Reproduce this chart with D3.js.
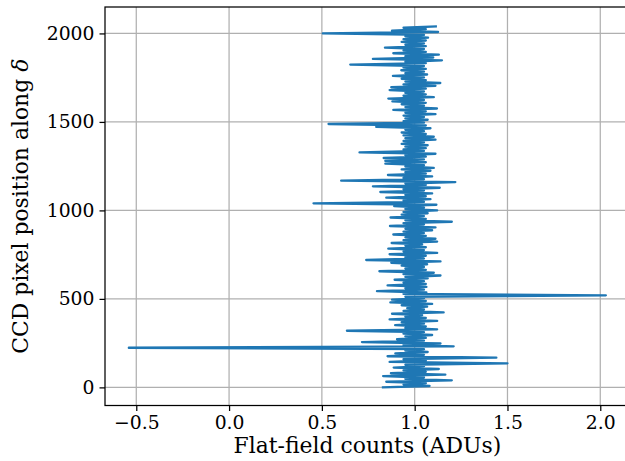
<!DOCTYPE html>
<html>
<head>
<meta charset="utf-8">
<script src="https://cdn.jsdelivr.net/npm/d3@7"></script>
<style>
  body { margin: 0; background: #fff; }
  text { font-family: "DejaVu Serif", serif; fill: #000; }
</style>
</head>
<body>
<div id="chart"></div>
<script>
// flat-field counts per CCD row, read every 8 pixels (pixel = index * step)
var step = 8;
var nPixels = 2048;
var counts = [
  0.823, 1.08, 0.94, 1.06, 0.847, 1.20, 0.95, 1.05, 0.83, 1.165, 0.872, 1.06, 0.94, 1.13, 0.887, 1.05,
  0.95, 1.50, 0.865, 1.06, 0.94, 1.44, 0.854, 1.05, 0.896, 1.07, 0.95, 1.05, -0.54, 1.21, 0.94, 1.139,
  0.716, 1.05, 0.905, 1.06, 0.95, 1.094, 0.94, 1.05, 0.635, 1.121, 0.95, 1.06, 0.895, 1.05, 0.93, 1.121,
  0.865, 1.06, 0.95, 1.04, 0.878, 1.156, 0.94, 1.05, 0.96, 1.067, 0.93, 1.094, 0.869, 1.06, 0.878, 1.05,
  0.95, 2.03, 0.94, 1.063, 0.797, 1.05, 0.95, 1.063, 0.854, 1.06, 0.94, 1.05, 0.892, 1.07, 0.95, 1.139,
  0.94, 1.103, 0.81, 1.06, 0.95, 1.05, 0.93, 1.067, 0.874, 1.139, 0.739, 1.05, 0.95, 1.06, 0.865, 1.121,
  0.94, 1.05, 0.858, 1.06, 0.95, 1.04, 0.876, 1.121, 0.94, 1.112, 0.95, 1.06, 0.885, 1.05, 0.94, 1.094,
  0.95, 1.112, 0.867, 1.05, 0.94, 1.20, 0.95, 1.06, 0.87, 1.05, 0.93, 1.07, 0.94, 1.121, 0.95, 1.05,
  0.89, 1.117, 0.455, 1.05, 0.94, 1.085, 0.847, 1.06, 0.95, 1.094, 0.815, 1.05, 0.94, 1.135, 0.775, 1.06,
  0.95, 1.219, 0.604, 1.05, 0.94, 1.094, 0.856, 1.06, 0.95, 1.085, 0.93, 1.103, 0.95, 1.05, 0.842, 1.06,
  0.842, 1.05, 0.833, 1.06, 0.95, 1.112, 0.703, 1.05, 0.94, 1.06, 0.95, 1.07, 0.93, 1.05, 0.94, 1.112,
  0.95, 1.103, 0.94, 1.06, 0.93, 1.05, 0.95, 1.085, 0.793, 1.06, 0.536, 1.05, 0.94, 1.07, 0.95, 1.05,
  0.94, 1.112, 0.95, 1.06, 0.885, 1.12, 0.95, 1.05, 0.93, 1.06, 0.88, 1.05, 0.858, 1.103, 0.94, 1.06,
  0.95, 1.05, 0.865, 1.06, 0.874, 1.112, 0.94, 1.138, 0.95, 1.06, 0.93, 1.05, 0.883, 1.067, 0.95, 1.05,
  0.928, 1.06, 0.94, 1.05, 0.653, 1.06, 0.95, 1.147, 0.775, 1.10, 0.95, 1.13, 0.885, 1.06, 0.94, 1.05,
  0.84, 1.06, 0.95, 1.05, 0.93, 1.06, 0.94, 1.072, 0.95, 1.05, 0.505, 1.126, 0.878, 1.06, 0.94, 1.12
];
var xTicks = [-0.5, 0.0, 0.5, 1.0, 1.5, 2.0];
var yTicks = [0, 500, 1000, 1500, 2000];
var xLabel = "Flat-field counts (ADUs)";
var yLabel = "CCD pixel position along ";
var yLabelSymbol = "δ";

var width = 625, height = 461;
var plotLeft = 105, plotTop = 7, plotBottom = 405.5;
var pxPerUnit = 185.6;   // horizontal pixels per ADU
var tickFont = "18.8px", labelFont = "21.9px";

var svg = d3.select("#chart").append("svg")
    .attr("width", width)
    .attr("height", height);

// matplotlib style 5% margins around the data
var xExt = d3.extent(counts);
var xPad = (xExt[1] - xExt[0]) * 0.05;
var xDomain = [xExt[0] - xPad, xExt[1] + xPad];
var x = d3.scaleLinear()
    .domain(xDomain)
    .range([plotLeft, plotLeft + (xDomain[1] - xDomain[0]) * pxPerUnit]);

var yPad = (nPixels - 1) * 0.05;
var y = d3.scaleLinear()
    .domain([-yPad, nPixels - 1 + yPad])
    .range([plotBottom, plotTop]);

var plotRight = x.range()[1];

// grid
var grid = svg.append("g").attr("stroke", "#b0b0b0").attr("stroke-width", 1.25);
grid.selectAll(".gx").data(xTicks).enter().append("line")
    .attr("x1", function (d) { return x(d); })
    .attr("x2", function (d) { return x(d); })
    .attr("y1", plotTop).attr("y2", plotBottom);
grid.selectAll(".gy").data(yTicks).enter().append("line")
    .attr("x1", plotLeft).attr("x2", plotRight)
    .attr("y1", function (d) { return y(d); })
    .attr("y2", function (d) { return y(d); });

// the profile
var line = d3.line()
    .x(function (d) { return x(d); })
    .y(function (d, i) { return y(i * step); });

svg.append("path")
    .datum(counts)
    .attr("fill", "none")
    .attr("stroke", "#1f77b4")
    .attr("stroke-width", 2.35)
    .attr("stroke-linejoin", "round")
    .attr("d", line);

// axes
var xAxis = d3.axisBottom(x)
    .tickValues(xTicks)
    .tickSizeInner(5.5).tickSizeOuter(0).tickPadding(5)
    .tickFormat(function (d) { return d3.format(".1f")(d).replace("-", "\u2212"); });
var yAxis = d3.axisLeft(y)
    .tickValues(yTicks)
    .tickSizeInner(5.5).tickSizeOuter(0).tickPadding(5)
    .tickFormat(d3.format("d"));

var gx = svg.append("g").attr("transform", "translate(0," + plotBottom + ")").call(xAxis);
var gy = svg.append("g").attr("transform", "translate(" + plotLeft + ",0)").call(yAxis);
[gx, gy].forEach(function (g) {
    g.select(".domain").remove();
    g.selectAll("line").attr("stroke", "#000").attr("stroke-width", 1.25);
    g.selectAll("text")
        .style("font-family", "'DejaVu Serif', serif")
        .style("font-size", tickFont)
        .attr("fill", "#000");
});

// spines
svg.append("rect")
    .attr("x", plotLeft).attr("y", plotTop)
    .attr("width", plotRight - plotLeft).attr("height", plotBottom - plotTop)
    .attr("fill", "none").attr("stroke", "#000").attr("stroke-width", 1.25);

svg.append("text")
    .attr("x", (plotLeft + plotRight) / 2)
    .attr("y", 453)
    .attr("text-anchor", "middle")
    .style("font-size", labelFont)
    .text(xLabel);

var yl = svg.append("text")
    .attr("transform", "translate(28," + (plotTop + plotBottom) / 2 + ") rotate(-90)")
    .attr("text-anchor", "middle")
    .style("font-size", labelFont);
yl.append("tspan").text(yLabel);
yl.append("tspan").style("font-style", "italic").text(yLabelSymbol);
</script>
</body>
</html>
